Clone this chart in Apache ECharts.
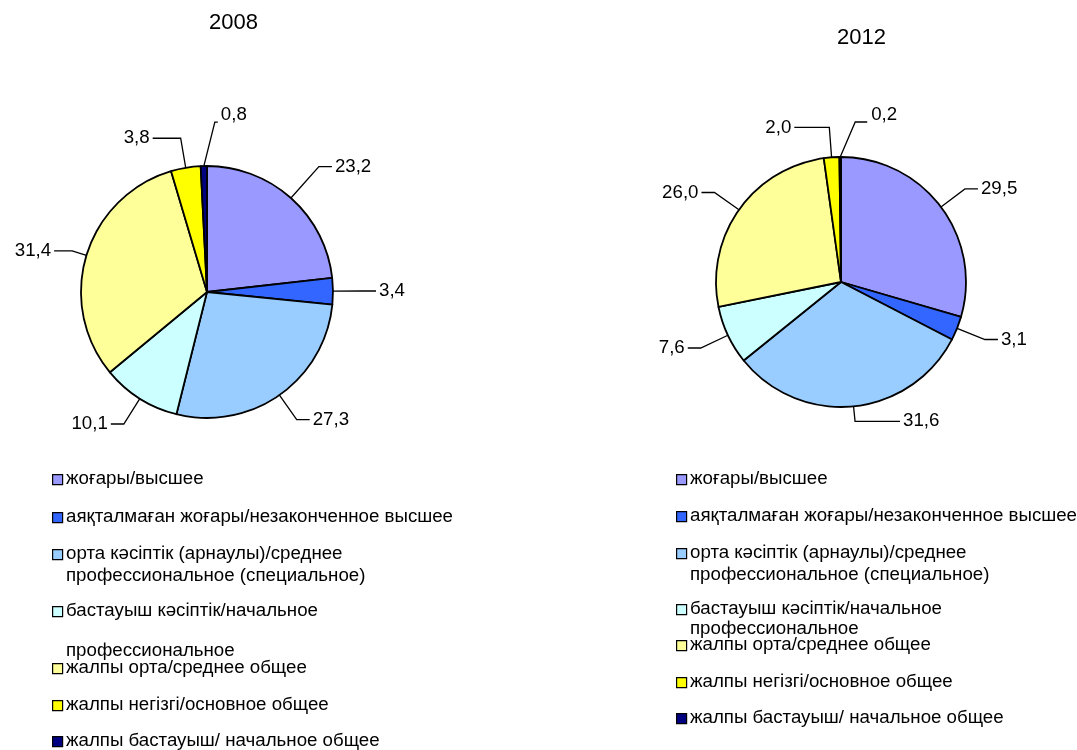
<!DOCTYPE html>
<html>
<head>
<meta charset="utf-8">
<script src="https://cdn.jsdelivr.net/npm/echarts@6/dist/echarts.min.js"></script>
<style>
html,body{margin:0;padding:0;background:#fff;}
#chart{width:1077px;height:750px;}
</style>
</head>
<body>
<div id="chart"></div>
<script>
// ---- data ----
const categories = [
  'жоғары/высшее',
  'аяқталмаған жоғары/незаконченное высшее',
  'орта кәсіптік (арнаулы)/среднее профессиональное (специальное)',
  'бастауыш кәсіптік/начальное профессиональное',
  'жалпы орта/среднее общее',
  'жалпы негізгі/основное общее',
  'жалпы бастауыш/ начальное общее'
];
const legendLabels = [
  'жоғары/высшее',
  'аяқталмаған жоғары/незаконченное высшее',
  'орта кәсіптік (арнаулы)/среднее\nпрофессиональное (специальное)',
  'бастауыш кәсіптік/начальное\nпрофессиональное',
  'жалпы орта/среднее общее',
  'жалпы негізгі/основное общее',
  'жалпы бастауыш/ начальное общее'
];
const values2008 = [23.2, 3.4, 27.3, 10.1, 31.4, 3.8, 0.8];
const values2012 = [29.5, 3.1, 31.6, 7.6, 26.0, 2.0, 0.2];
const years = ['2008', '2012'];

// ---- styles / layout ----
const colors = ['#9999FF', '#3366FF', '#99CCFF', '#CCFFFF', '#FFFF99', '#FFFF00', '#000080'];
const FONT = '"Liberation Sans", Arial, sans-serif';
const pies = [
  { values: values2008, center: [207, 292], radius: 126, titleLeft: 209, titleTop: 12,
    lineLen: [[42, 13], [30, 13], [30, 13], [30, 13], [15, 18], [30, 28], [0, 0]],
    topLabel: { lx: 11, ly: -44, hx: 14, tx: 17, ty: -51 },
    legendX: 52, legendY: [479, 517, 554, 611, 668, 705, 741], lineH: [20, 20, 22, 40, 20, 20, 20] },
  { values: values2012, center: [841, 282], radius: 125, titleLeft: 837, titleTop: 27,
    lineLen: [[30, 13], [30, 13], [15, 45], [30, 13], [30, 13], [30, 35], [0, 0]],
    topLabel: { lx: 15, ly: -35, hx: 27, tx: 31, ty: -42 },
    legendX: 676, legendY: [479, 516, 553, 609, 645, 682, 718], lineH: [20, 20, 22, 20, 20, 20, 20] }
];

const chart = echarts.init(document.getElementById('chart'), null, { renderer: 'canvas' });

function fmt(v) { return v.toFixed(1).replace('.', ','); }

const series = pies.map((p, si) => ({
  type: 'pie',
  name: years[si],
  center: p.center,
  radius: p.radius,
  startAngle: 90,
  clockwise: true,
  animation: false,
  avoidLabelOverlap: false,
  data: categories.map((c, i) => ({
    name: c, value: p.values[i], itemStyle: { color: colors[i] },
    labelLine: { length: p.lineLen[i][0], length2: p.lineLen[i][1] }
  })),
  itemStyle: { borderColor: '#000', borderWidth: 1.8 },
  emphasis: { disabled: true },
  label: {
    show: true,
    position: 'outside',
    overflow: 'none',
    distanceToLabelLine: 3,
    formatter: params => fmt(params.value),
    color: '#000',
    fontFamily: FONT,
    fontSize: 18.7
  },
  labelLine: { show: true, length: 30, length2: 13, lineStyle: { color: '#000', width: 1.3 } },
  labelLayout: function (params) {
    if (params.dataIndex !== categories.length - 1) return {};
    const t = p.topLabel;
    const pts = params.labelLinePoints;
    let ax, ay;
    if (pts && pts.length) { ax = pts[0][0]; ay = pts[0][1]; }
    else { ax = params.rect.x + params.rect.width; ay = params.rect.y; }
    return {
      x: ax + t.tx, y: ay + t.ty, align: 'left', verticalAlign: 'middle',
      labelLinePoints: [[ax, ay], [ax + t.lx, ay + t.ly], [ax + t.hx, ay + t.ly]]
    };
  }
}));

const graphics = [];
pies.forEach(p => {
  categories.forEach((c, i) => {
    const y = p.legendY[i];
    graphics.push({
      type: 'rect', left: p.legendX, top: y - 5,
      shape: { width: 10, height: 10 },
      style: { fill: colors[i], stroke: '#000', lineWidth: 1.2 }
    });
    graphics.push({
      type: 'text', left: p.legendX + 14, top: y - p.lineH[i] / 2,
      style: { text: legendLabels[i], fill: '#000', font: '18.7px ' + FONT, lineHeight: p.lineH[i] }
    });
  });
});

chart.setOption({
  backgroundColor: '#fff',
  animation: false,
  title: pies.map((p, si) => ({
    text: years[si], left: p.titleLeft, top: p.titleTop, padding: 0,
    textStyle: { fontFamily: FONT, fontSize: 22, fontWeight: 'normal', color: '#000' }
  })),
  series: series,
  graphic: graphics
});
</script>
</body>
</html>
